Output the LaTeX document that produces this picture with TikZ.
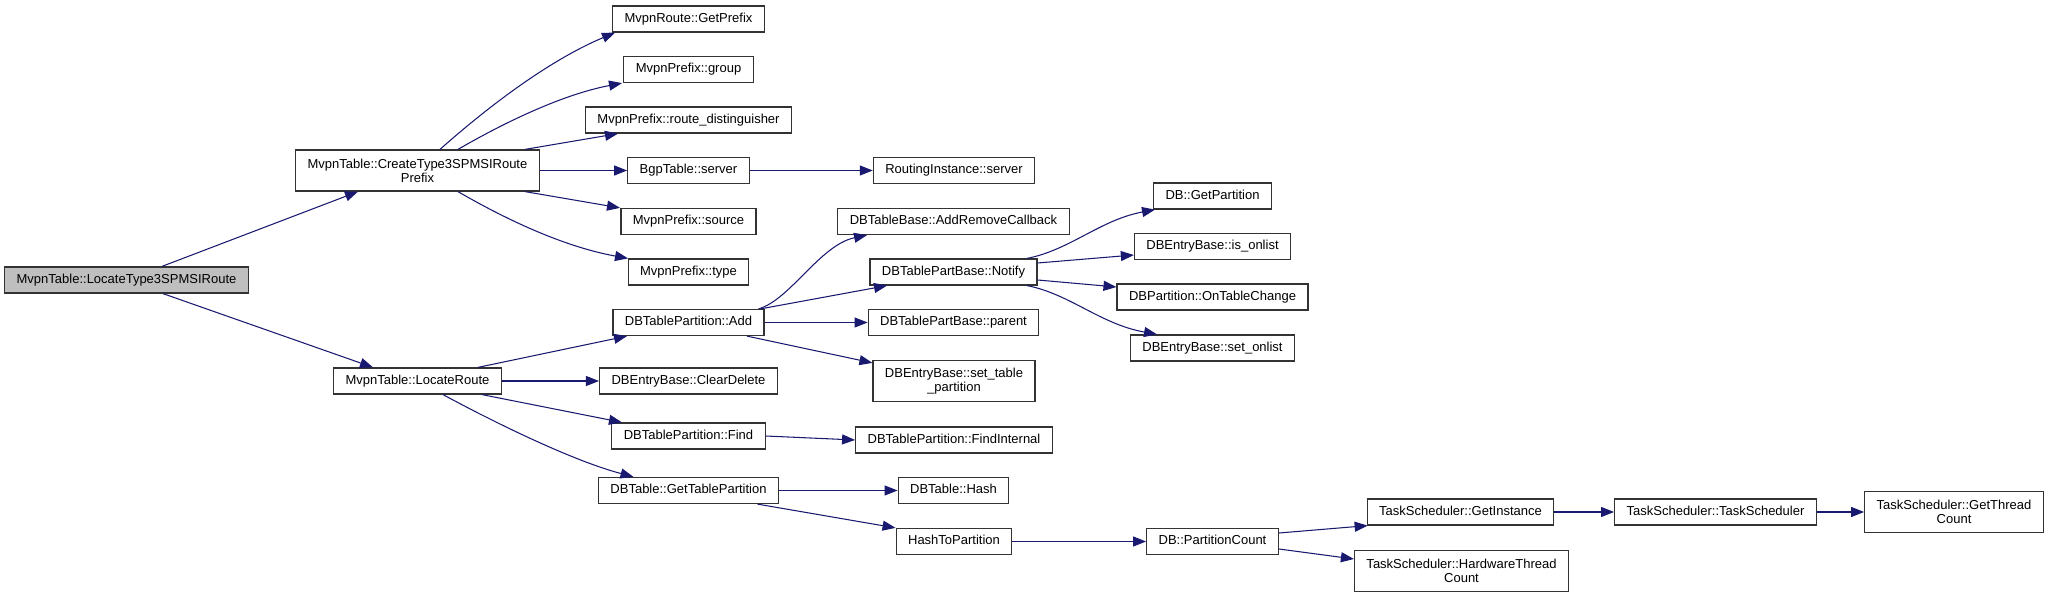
\documentclass[tikz,border=0pt]{standalone}
\usepackage{fontspec}
\setmainfont{Liberation Sans}
\usepackage{tikz}
\usetikzlibrary{arrows.meta,positioning,calc}
\definecolor{callblue}{HTML}{191970}
\definecolor{boxline}{HTML}{333333}
\definecolor{rootgray}{HTML}{BFBFBF}
\tikzset{
  >={Triangle[length=2.6mm,width=2mm]},
  % boxes
  cn/.style={draw=boxline,fill=white,line width=0.7pt,inner xsep=6.8pt,
             inner ysep=0pt,minimum height=0.52cm,
             font=\fontsize{7.4}{8}\selectfont},
  one/.style={cn,text height=5.3pt,text depth=1.5pt},
  two/.style={cn,align=center,minimum height=0.82cm},
  rootbox/.style={one,fill=rootgray},
  % calls
  call/.style={->,draw=callblue,line width=0.6pt},
}
\begin{document}
\begin{tikzpicture}[x=0.02cm,y=-0.02cm]
  \useasboundingbox (0,0) rectangle (2048,597);
  \node[rootbox] (root) at (126.5,280) {MvpnTable::LocateType3SPMSIRoute};
  \node[two] (ct3) at (417.5,170.5) {MvpnTable::CreateType3SPMSIRoute\\Prefix};
  \node[one] (lr) at (417.5,381) {MvpnTable::LocateRoute};
  \node[one] (gp) at (688.5,19) {MvpnRoute::GetPrefix};
  \node[one] (grp) at (688.5,69.5) {MvpnPrefix::group};
  \node[one] (rd) at (688.5,120) {MvpnPrefix::route\_distinguisher};
  \node[one] (bgp) at (688.5,170.5) {BgpTable::server};
  \node[one] (src) at (688.5,221.5) {MvpnPrefix::source};
  \node[one] (typ) at (688.5,272) {MvpnPrefix::type};
  \node[one] (add) at (688.5,322.5) {DBTablePartition::Add};
  \node[one] (cd) at (688.5,381) {DBEntryBase::ClearDelete};
  \node[one] (find) at (688.5,436) {DBTablePartition::Find};
  \node[one] (gtp) at (688.5,490.5) {DBTable::GetTablePartition};
  \node[one] (ri) at (954,170.5) {RoutingInstance::server};
  \node[one] (arc) at (953.5,221.5) {DBTableBase::AddRemoveCallback};
  \node[one] (ntf) at (953.5,272) {DBTablePartBase::Notify};
  \node[one] (par) at (953.5,322.5) {DBTablePartBase::parent};
  \node[two] (stp) at (954,381) {DBEntryBase::set\_table\\\_partition};
  \node[one] (fi) at (954,440) {DBTablePartition::FindInternal};
  \node[one] (hash) at (953.5,490.5) {DBTable::Hash};
  \node[one] (htp) at (954,541.5) {HashToPartition};
  \node[one] (dbgp) at (1212.5,196) {DB::GetPartition};
  \node[one] (iol) at (1212.5,246.5) {DBEntryBase::is\_onlist};
  \node[one] (otc) at (1212.5,297) {DBPartition::OnTableChange};
  \node[one] (sol) at (1212.5,348) {DBEntryBase::set\_onlist};
  \node[one] (pc) at (1212.5,541.5) {DB::PartitionCount};
  \node[one] (gi) at (1460.5,512) {TaskScheduler::GetInstance};
  \node[two] (hw) at (1461.5,571) {TaskScheduler::HardwareThread\\Count};
  \node[one] (ts) at (1715.5,512) {TaskScheduler::TaskScheduler};
  \node[two] (gtc) at (1954,512) {TaskScheduler::GetThread\\Count};

  \draw[call] ($(root.north)+(35.5,0)$) -- ($(ct3.south)+(-59.5,0)$);
  \draw[call] ($(root.south)+(36.5,0)$) -- ($(lr.north)+(-44.5,0)$);
  \draw[call] ($(ct3.north)+(22.5,0)$) .. controls (490,105) and (550,60) .. ($(gp.south)+(-73.5,0)$);
  \draw[call] ($(ct3.north)+(40.5,0)$) .. controls (500,125) and (560,95) .. ($(grp.south)+(-66.5,0)$);
  \draw[call] ($(ct3.north)+(107.5,0)$) -- ($(rd.south)+(-70.5,0)$);
  \draw[call] (ct3.east) -- (bgp.west);
  \draw[call] ($(ct3.south)+(107.5,0)$) -- ($(src.north)+(-68.5,0)$);
  \draw[call] ($(ct3.south)+(40.5,0)$) .. controls (500,216) and (560,246) .. ($(typ.north)+(-60.5,0)$);
  \draw[call] (bgp.east) -- (ri.west);
  \draw[call] ($(lr.north)+(60.5,0)$) -- ($(add.south)+(-61.5,0)$);
  \draw[call] (lr.east) -- (cd.west);
  \draw[call] ($(lr.south)+(64.5,0)$) -- ($(find.north)+(-66.5,0)$);
  \draw[call] ($(lr.south)+(25.5,0)$) .. controls (490,420) and (570,460) .. ($(gtp.north)+(-55,0)$);
  \draw[call] ($(add.north)+(70,0)$) .. controls (790,300) and (820,245) .. ($(arc.south)+(-86.5,0)$);
  \draw[call] ($(add.north)+(72,0)$) -- ($(ntf.south)+(-66.5,0)$);
  \draw[call] (add.east) -- (par.west);
  \draw[call] ($(add.south)+(58.5,0)$) -- ($(stp.north west)+(0,3)$);
  \draw[call] (find.east) -- (fi.west);
  \draw[call] (gtp.east) -- (hash.west);
  \draw[call] ($(gtp.south)+(69,0)$) -- (htp.north west);
  \draw[call] ($(ntf.north)+(73.5,0)$) .. controls (1070,250) and (1100,220) .. ($(dbgp.south)+(-57.5,0)$);
  \draw[call] ($(ntf.east)+(0,-9)$) -- ($(iol.west)+(0,8.5)$);
  \draw[call] ($(ntf.east)+(0,8)$) -- ($(otc.west)+(0,-10)$);
  \draw[call] ($(ntf.south)+(73.5,0)$) .. controls (1070,294) and (1100,324) .. ($(sol.north)+(-55.5,0)$);
  \draw[call] (htp.east) -- (pc.west);
  \draw[call] ($(pc.east)+(0,-8.5)$) -- ($(gi.south west)+(1,0)$);
  \draw[call] ($(pc.east)+(0,7.5)$) -- ($(hw.west)+(0,-12)$);
  \draw[call] (gi.east) -- (ts.west);
  \draw[call] (ts.east) -- (gtc.west);
\end{tikzpicture}
\end{document}
